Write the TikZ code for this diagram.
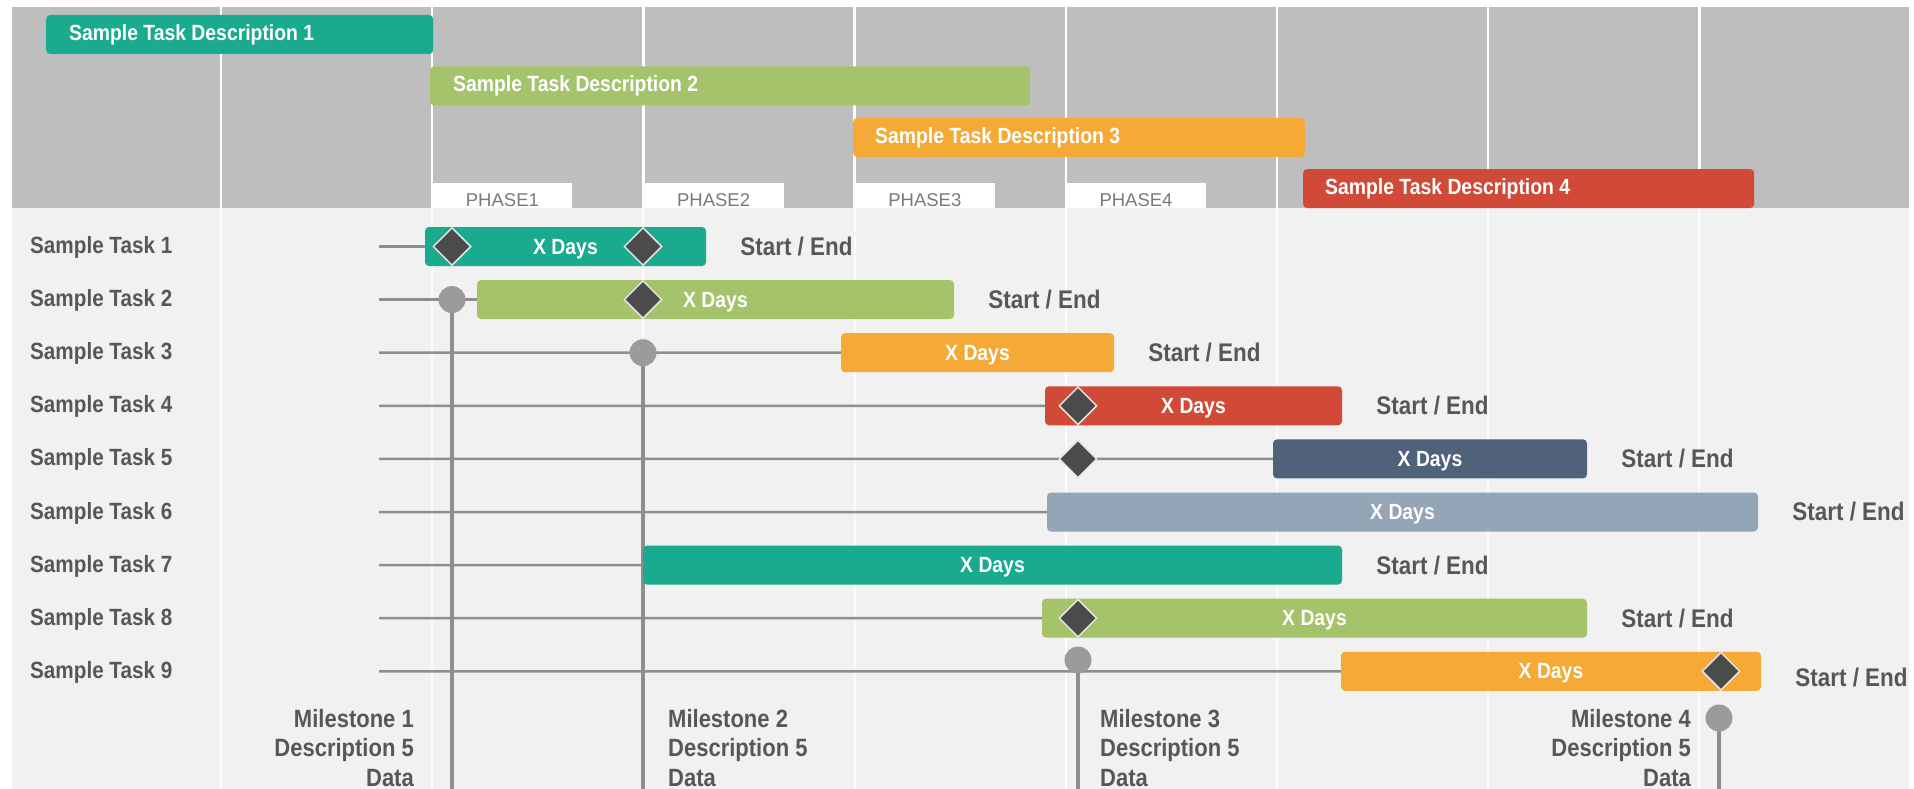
\documentclass[tikz,border=0pt]{standalone}
\usepackage{fontspec}
\newfontfamily\cf[FakeStretch=0.88]{Liberation Sans}
\newfontfamily\pf{Liberation Sans}
\usetikzlibrary{shapes.geometric}
\pgfdeclarelayer{back}
\pgfdeclarelayer{lines}
\pgfsetlayers{back,lines,main}
\definecolor{cTeal}{HTML}{1AAA8E}
\definecolor{cGreen}{HTML}{A5C36B}
\definecolor{cOrange}{HTML}{F5AA38}
\definecolor{cRed}{HTML}{D14A38}
\definecolor{cSlate}{HTML}{4F6279}
\definecolor{cSlateL}{HTML}{93A5B7}
\definecolor{cHead}{HTML}{BEBEBE}
\definecolor{cBody}{HTML}{F1F1F1}
\definecolor{cDiv}{HTML}{FBFBFB}
\definecolor{cLine}{HTML}{8E8E8E}
\definecolor{cDia}{HTML}{4B4B4B}
\definecolor{cDiaEdge}{HTML}{E4E4E4}
\definecolor{cCirc}{HTML}{9B9B9B}
\definecolor{cTxt}{HTML}{575757}
\definecolor{cPh}{HTML}{7A7A7A}
\begin{document}
\begin{tikzpicture}[x=1pt,y=-1pt,
  hbar/.style={rounded corners=4pt, minimum height=39pt, inner sep=0pt, anchor=west},
  htext/.style={text=white, font=\cf\bfseries\fontsize{22}{22}\selectfont, anchor=west, inner sep=0pt},
  bar/.style={rounded corners=4pt, minimum height=39pt, inner sep=0pt, text depth=0pt, text=white, font=\cf\bfseries\fontsize{22}{22}\selectfont},
  tasklbl/.style={anchor=west, inner sep=0pt, text=cTxt, font=\cf\bfseries\fontsize{23.5}{23.5}\selectfont},
  setxt/.style={anchor=west, inner sep=0pt, text=cTxt, font=\cf\bfseries\fontsize{25.5}{25.5}\selectfont},
  ms/.style={inner sep=0pt, text=cTxt, font=\cf\bfseries\fontsize{25}{29.5}\selectfont},
  dia/.style={diamond, fill=cDia, draw=cDiaEdge, line width=1.5pt, minimum width=38pt, minimum height=38pt, inner sep=0pt},
  circ/.style={circle, fill=cCirc, minimum size=27pt, inner sep=0pt},
  rowline/.style={draw=cLine, line width=2.5pt},
  msline/.style={draw=cLine, line width=3.5pt},
  phasetab/.style={fill=white, minimum width=140pt, minimum height=25pt, inner sep=0pt, anchor=north west},
  phasetxt/.style={text=cPh, inner sep=0pt, font=\pf\fontsize{18.5}{18.5}\selectfont}
]
\useasboundingbox (0,0) rectangle (1914,789);
\begin{pgfonlayer}{back}
  \fill[white] (0,0) rectangle (1914,789);
  \fill[cHead] (12,7) rectangle (1909,208);
  \fill[cBody] (12,208) rectangle (1909,789);
  \foreach \k in {0,...,7} {
    \draw[white, line width=2.5pt] (221+211.2*\k,7) -- (221+211.2*\k,208);
    \draw[cDiv, line width=2pt] (221+211.2*\k,208) -- (221+211.2*\k,789);
  }
  \foreach \k/\t in {1/PHASE1,2/PHASE2,3/PHASE3,4/PHASE4} {
    \node[phasetab] (p\k) at (221+211.2*\k,183) {};
    \node[phasetxt] (pt\k) at ([yshift=-4pt]p\k.center) {\t};
  }
\end{pgfonlayer}

% header task bars
\node[hbar, fill=cTeal, minimum width=387pt] (h1) at (46,34.5) {};
\node[htext] (h1t) at ([xshift=23pt]h1.west) {Sample Task Description 1};
\node[hbar, fill=cGreen, minimum width=600pt] (h2) at (430,86) {};
\node[htext] (h2t) at ([xshift=23pt]h2.west) {Sample Task Description 2};
\node[hbar, fill=cOrange, minimum width=452pt] (h3) at (853,137.5) {};
\node[htext] (h3t) at ([xshift=22pt]h3.west) {Sample Task Description 3};
\node[hbar, fill=cRed, minimum width=451pt] (h4) at (1303,188.5) {};
\node[htext] (h4t) at ([xshift=22pt]h4.west) {Sample Task Description 4};

% row labels and start coordinates
\foreach \i in {1,...,9} {
  \node[tasklbl] (l\i) at (30,247.5+53.1*\i-53.1) {Sample Task \i};
  \coordinate (s\i) at (379,246.5+53.1*\i-53.1);
}

% body bars
\node[bar, fill=cTeal,   minimum width=281pt] (b1) at (565.5,246.5) {X Days};
\node[bar, fill=cGreen,  minimum width=477pt] (b2) at (715.5,299.6) {X Days};
\node[bar, fill=cOrange, minimum width=273pt] (b3) at (977.5,352.7) {X Days};
\node[bar, fill=cRed,    minimum width=297pt] (b4) at (1193.5,405.8) {X Days};
\node[bar, fill=cSlate,  minimum width=314pt] (b5) at (1430,458.9) {X Days};
\node[bar, fill=cSlateL, minimum width=711pt] (b6) at (1402.5,512) {X Days};
\node[bar, fill=cTeal,   minimum width=699pt] (b7) at (992.5,565.1) {X Days};
\node[bar, fill=cGreen,  minimum width=545pt] (b8) at (1314.5,618.2) {X Days};
\node[bar, fill=cOrange, minimum width=420pt] (b9) at (1551,671.3) {X Days};

\foreach \i in {1,...,8} {
  \node[setxt] (e\i) at ([xshift=34pt]b\i.east) {Start / End};
}
\node[setxt] (e9) at ([xshift=34pt,yshift=-6pt]b9.east) {Start / End};

% milestone circles
\node[circ] (c1) at (452,299.6) {};
\node[circ] (c2) at (643,352.7) {};
\node[circ] (c3) at (1078,660) {};
\node[circ] (c4) at (1719,718) {};
\coordinate (m1b) at (452,789);
\coordinate (m2b) at (643,789);
\coordinate (m3b) at (1078,789);
\coordinate (m4b) at (1719,789);

% diamonds
\node[dia] (d1) at (452,246.5) {};
\node[dia] (d2) at (643,246.5) {};
\node[dia] (d3) at (643,299.6) {};
\node[dia] (d4) at (1078,405.8) {};
\node[dia] (d5) at (1078,458.9) {};
\node[dia] (d6) at (1078,618.2) {};
\node[dia] (d7) at (1721,671.3) {};

\begin{pgfonlayer}{lines}
  \draw[rowline] (s1) -- (b1.west);
  \draw[rowline] (s2) -- (c1.center) -- (b2.west);
  \draw[rowline] (s3) -- (c2.center) -- (b3.west);
  \draw[rowline] (s4) -- (b4.west);
  \draw[rowline] (s5) -- (d5.center) -- (b5.west);
  \draw[rowline] (s6) -- (b6.west);
  \draw[rowline] (s7) -- (b7.west);
  \draw[rowline] (s8) -- (b8.west);
  \draw[rowline] (s9) -- (b9.west);
  \draw[msline] (c1.center) -- (m1b);
  \draw[msline] (c2.center) -- (m2b);
  \draw[msline] (c3.center) -- (m3b);
  \draw[msline] (c4.center) -- (m4b);
\end{pgfonlayer}

% milestone labels
\node[ms, align=right, anchor=east] (t1) at (414,748) {Milestone 1\\Description 5\\Data};
\node[ms, align=left, anchor=west] (t2) at (668,748) {Milestone 2\\Description 5\\Data};
\node[ms, align=left, anchor=west] (t3) at (1100,748) {Milestone 3\\Description 5\\Data};
\node[ms, align=right, anchor=east] (t4) at (1691,748) {Milestone 4\\Description 5\\Data};
\end{tikzpicture}
\end{document}
